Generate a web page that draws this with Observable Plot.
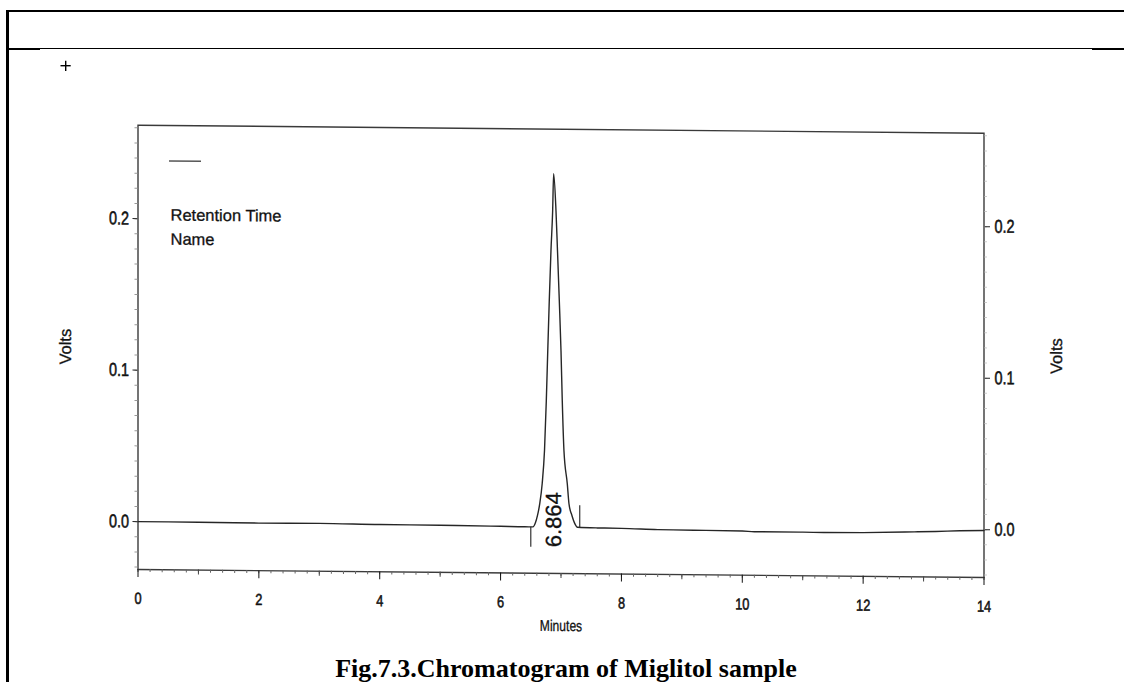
<!DOCTYPE html>
<html><head><meta charset="utf-8">
<script src="https://cdn.jsdelivr.net/npm/d3@7"></script>
<script src="https://cdn.jsdelivr.net/npm/@observablehq/plot@0.6"></script>
<style>
html,body{margin:0;padding:0;background:#fff;}
#page{position:relative;width:1124px;height:682px;overflow:hidden;background:#fff;}
#chart{position:absolute;left:0;top:0;width:1124px;height:682px;transform:skewY(0.5418deg);transform-origin:560.5px 350.8px;}
.hl{position:absolute;background:#000;z-index:2;}
#caption{position:absolute;left:0;width:1132px;top:656px;text-align:center;font-family:"Liberation Serif","Times New Roman",serif;font-weight:bold;font-size:26px;line-height:26px;white-space:nowrap;color:#000;z-index:2;}
#plus{position:absolute;left:60px;top:60px;z-index:2;}
</style></head>
<body><div id="page">
<div id="chart"></div>
<div class="hl" style="left:6px;top:10px;width:1118px;height:2px"></div>
<div class="hl" style="left:6px;top:10px;width:2.5px;height:672px"></div>
<div class="hl" style="left:7px;top:47.6px;width:1085px;height:1.3px"></div>
<div class="hl" style="left:7px;top:48.2px;width:33px;height:2px"></div>
<div class="hl" style="left:1092px;top:48.3px;width:32px;height:2px"></div>
<svg id="plus" width="12" height="12"><line x1="0.5" y1="5.7" x2="10.7" y2="5.7" stroke="#000" stroke-width="1.4"/><line x1="5.7" y1="0.8" x2="5.7" y2="11" stroke="#000" stroke-width="1.4"/></svg>
<div id="caption"></div>
</div>
<script>
// Chromatogram trace (minutes, volts)
const times = [0, 1, 2, 3, 4, 5, 6, 6.4, 6.536, 6.578, 6.611, 6.649, 6.689, 6.727, 6.757, 6.781, 6.806, 6.834, 6.862, 6.878, 6.917, 6.942, 6.972, 7.000, 7.021, 7.049, 7.104, 7.132, 7.182, 7.223, 7.273, 7.6, 8.0, 8.6, 9.2, 10.0, 10.2, 11.0, 11.35, 12.0, 12.85, 13.2, 13.6, 14];
const volts = [0, 0, -0.0002, 0, -0.0004, -0.0005, -0.0008, -0.0010, -0.0010, 0.0019, 0.0066, 0.0145, 0.0277, 0.0495, 0.0825, 0.1155, 0.1485, 0.1815, 0.2079, 0.2323, 0.2079, 0.1815, 0.1485, 0.1155, 0.0825, 0.0495, 0.0277, 0.0145, 0.0066, 0.0019, -0.0010, -0.0013, -0.0014, -0.0020, -0.0022, -0.0024, -0.0028, -0.0028, -0.0029, -0.0027, -0.0019, -0.0015, -0.0009, -0.0006];

// Integration markers (peak start / end)
const markerTimes = [6.50, 7.31];
const markerLow = [-0.0145, -0.0014];
const markerHigh = [-0.0012, 0.0133];

// Peak annotation
const peakLabels = ["6.864"];
const peakLabelTimes = [6.881];
const peakLabelVolts = [0.0039];

// Axes
const xTicks = [0, 2, 4, 6, 8, 10, 12, 14];
const xMidTicks = [1, 3, 5, 7, 9, 11, 13];
const yTicks = [0, 0.1, 0.2];
const xDomain = [0, 14];
const yDomain = [-0.0316, 0.2617];
const xLabel = "Minutes";
const yLabel = "Volts";
const legendLabels = ["Retention Time", "Name"];
const captionText = "Fig.7.3.Chromatogram of Miglitol sample";

const trace = times.map((t, i) => ({t, v: volts[i]}));
const markers = markerTimes.map((t, i) => ({t, lo: markerLow[i], hi: markerHigh[i]}));
const peaks = peakLabels.map((s, i) => ({s, t: peakLabelTimes[i], v: peakLabelVolts[i]}));
const xMinor = d3.range(0, 14.001, 0.2);
const yMinor = d3.range(-0.03, 0.2605, 0.01);
const yFmt = d3.format(".1f");

const sans = '"Liberation Sans",Arial,sans-serif';

const legendLine = (index, scales, values, dim) => {
  const l = d3.create("svg:line")
    .attr("x1", dim.marginLeft + 31.5).attr("x2", dim.marginLeft + 63.5)
    .attr("y1", dim.marginTop + 36).attr("y2", dim.marginTop + 36)
    .attr("stroke", "#555").attr("stroke-width", 1.6);
  return l.node();
};

const chart = Plot.plot({
  width: 1124, height: 682,
  marginTop: 128.7, marginBottom: 109, marginLeft: 137.5, marginRight: 140.5,
  x: {domain: xDomain},
  y: {domain: yDomain},
  style: {background: "transparent", color: "#111", fontFamily: sans},
  marks: [
    Plot.frame({stroke: "#3a3a3a", strokeWidth: 1.4}),
    // y axes left
    Plot.axisY({anchor: "left", ticks: yMinor, tickSize: 3, tickFormat: () => "", label: null, stroke: "#999"}),
    Plot.axisY({anchor: "left", ticks: yTicks, tickSize: 5, tickPadding: 4, tickFormat: yFmt, label: null, fontSize: 18.5, stroke: "#222"}),
    // y axes right
    Plot.axisY({anchor: "right", ticks: yMinor, tickSize: 2.5, tickFormat: () => "", label: null, stroke: "#ccc"}),
    Plot.axisY({anchor: "right", ticks: yTicks, tickSize: 5.5, tickPadding: 5, tickFormat: yFmt, label: null, fontSize: 18.5, stroke: "#222"}),
    // x axis bottom
    Plot.axisX({anchor: "bottom", ticks: xMinor, tickSize: 3, tickFormat: () => "", label: null, stroke: "#666"}),
    Plot.axisX({anchor: "bottom", ticks: xMidTicks, tickSize: 5, tickFormat: () => "", label: null, stroke: "#444"}),
    Plot.axisX({anchor: "bottom", ticks: xTicks, tickSize: 8, tickPadding: 15, tickFormat: d => String(d), label: null, fontSize: 16, stroke: "#111"}),
    // axis titles
    Plot.text([xLabel], {frameAnchor: "bottom", dy: 57.5, textAnchor: "middle", text: d => d, fontSize: 15.5, fill: "#111"}),
    Plot.text([yLabel], {frameAnchor: "left", dx: -72.5, rotate: -90, textAnchor: "middle", text: d => d, fontSize: 16.5, fill: "#111"}),
    Plot.text([yLabel], {frameAnchor: "right", dx: 73.2, rotate: -90, textAnchor: "middle", text: d => d, fontSize: 16.5, fill: "#111"}),
    // legend
    legendLine,
    Plot.text([legendLabels[0]], {frameAnchor: "top-left", dx: 32.5, dy: 83.3, textAnchor: "start", text: d => d, fontSize: 16.5, fill: "#111"}),
    Plot.text([legendLabels[1]], {frameAnchor: "top-left", dx: 32.5, dy: 107.5, textAnchor: "start", text: d => d, fontSize: 16.5, fill: "#111"}),
    // integration markers
    Plot.ruleX(markers, {x: "t", y1: "lo", y2: "hi", stroke: "#333", strokeWidth: 1.2}),
    // trace
    Plot.line(trace, {x: "t", y: "v", stroke: "#262626", strokeWidth: 1.4, curve: "monotone-x"}),
    // peak label
    Plot.text(peaks, {x: "t", y: "v", text: "s", rotate: -90, fontSize: 22, fill: "#111"})
  ]
});

// condense tick labels and x title horizontally, as in the scanned original
const yLabelSet = new Set(yTicks.map(yFmt));
const xLabelSet = new Set(xTicks.map(String));
function squeeze(t, sx, fs, sw) {
  let tr = t.getAttribute("transform");
  if (!tr) {
    const x = t.getAttribute("x") || 0, y = t.getAttribute("y") || 0;
    t.removeAttribute("x"); t.removeAttribute("y");
    tr = `translate(${x},${y})`;
  }
  t.setAttribute("transform", `${tr} scale(${sx},1)`);
  t.setAttribute("font-size", fs);
  t.style.fontSize = fs + "px";
  t.setAttribute("stroke", "#111"); t.setAttribute("stroke-width", sw);
}
chart.querySelectorAll("text").forEach(t => {
  const s = t.textContent;
  if (yLabelSet.has(s)) squeeze(t, 0.78, 18.5, 0.55);
  else if (xLabelSet.has(s)) squeeze(t, 0.8, 16, 0.55);
  else if (s === xLabel) squeeze(t, 0.78, 15.5, 0.3);
  else if (s.length) { t.setAttribute("stroke", "#111"); t.setAttribute("stroke-width", 0.3); }
});

document.getElementById("chart").appendChild(chart);
document.getElementById("caption").textContent = captionText;
</script>
</body></html>
